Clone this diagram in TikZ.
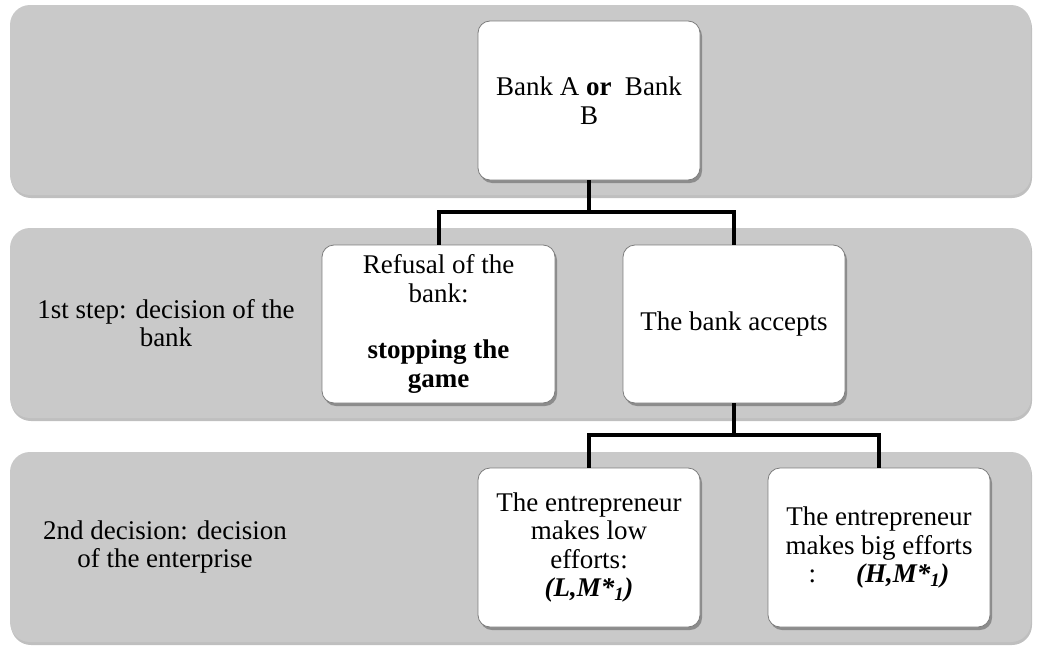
\documentclass[tikz,border=0pt]{standalone}
\usepackage{fontspec}
\setmainfont{Liberation Serif}
\usetikzlibrary{positioning}
\usetikzlibrary{shadows}
\definecolor{bandgray}{RGB}{201,201,201}
\definecolor{edgegray}{RGB}{125,125,125}

\begin{document}
\begin{tikzpicture}[x=1pt,y=-1pt,
	band/.style={fill=bandgray, rounded corners=20pt, drop shadow={shadow xshift=1pt, shadow yshift=-3pt, fill=black, opacity=0.25}},
	box/.style={draw=edgegray, line width=0.8pt, fill=white, rounded corners=12pt, align=center, inner sep=3pt, minimum width=222pt, minimum height=159pt, drop shadow={shadow xshift=2pt, shadow yshift=-3pt, fill=black, opacity=0.3}, font=\fontsize{27}{28.5}\selectfont},
	rowtext/.style={align=center, font=\fontsize{27}{28.5}\selectfont},
	conn/.style={line width=4pt, line join=miter}]
					\useasboundingbox (0,0) rectangle (1041,645);

					\fill [band] (10,5) rectangle (1031,195);
					\fill [band] (10,228) rectangle (1031,418);
					\fill [band] (10,452) rectangle (1031,642);

					\node [rowtext] (step1) at (166,323) {1st step: decision of the\\bank};
					\node [rowtext] (step2) at (165,547) {2nd decision: decision\\of the enterprise};

					\node [box] (bank) at (589,100.5) {Bank A \textbf{or}\ \ Bank\\B};
					\node [box, minimum width=233pt, minimum height=158pt] (refuse) at (438.5,324) {Refusal of the\\bank:\\[28pt]\textbf{stopping the}\\\textbf{game}};
					\node [box, minimum height=158pt] (accept) at (734,324) {The bank accepts};
					\node [box] (low) at (589,547.5) {The entrepreneur\\makes low\\efforts:\\\textbf{\textit{(L,M*\textsubscript{1})}}};
					\node [box] (high) at (879,547.5) {The entrepreneur\\makes big efforts\\:\hspace{40pt}\textbf{\textit{(H,M*\textsubscript{1})}}};

					\coordinate (fork1) at (589,212);
					\coordinate (fork2) at (734,435);
					\draw [conn] (bank.south) -- (fork1);
					\draw [conn] (refuse.north) |- (fork1) -| (accept.north);
					\draw [conn] (accept.south) -- (fork2);
					\draw [conn] (low.north) |- (fork2) -| (high.north);
				\end{tikzpicture}
\end{document}
